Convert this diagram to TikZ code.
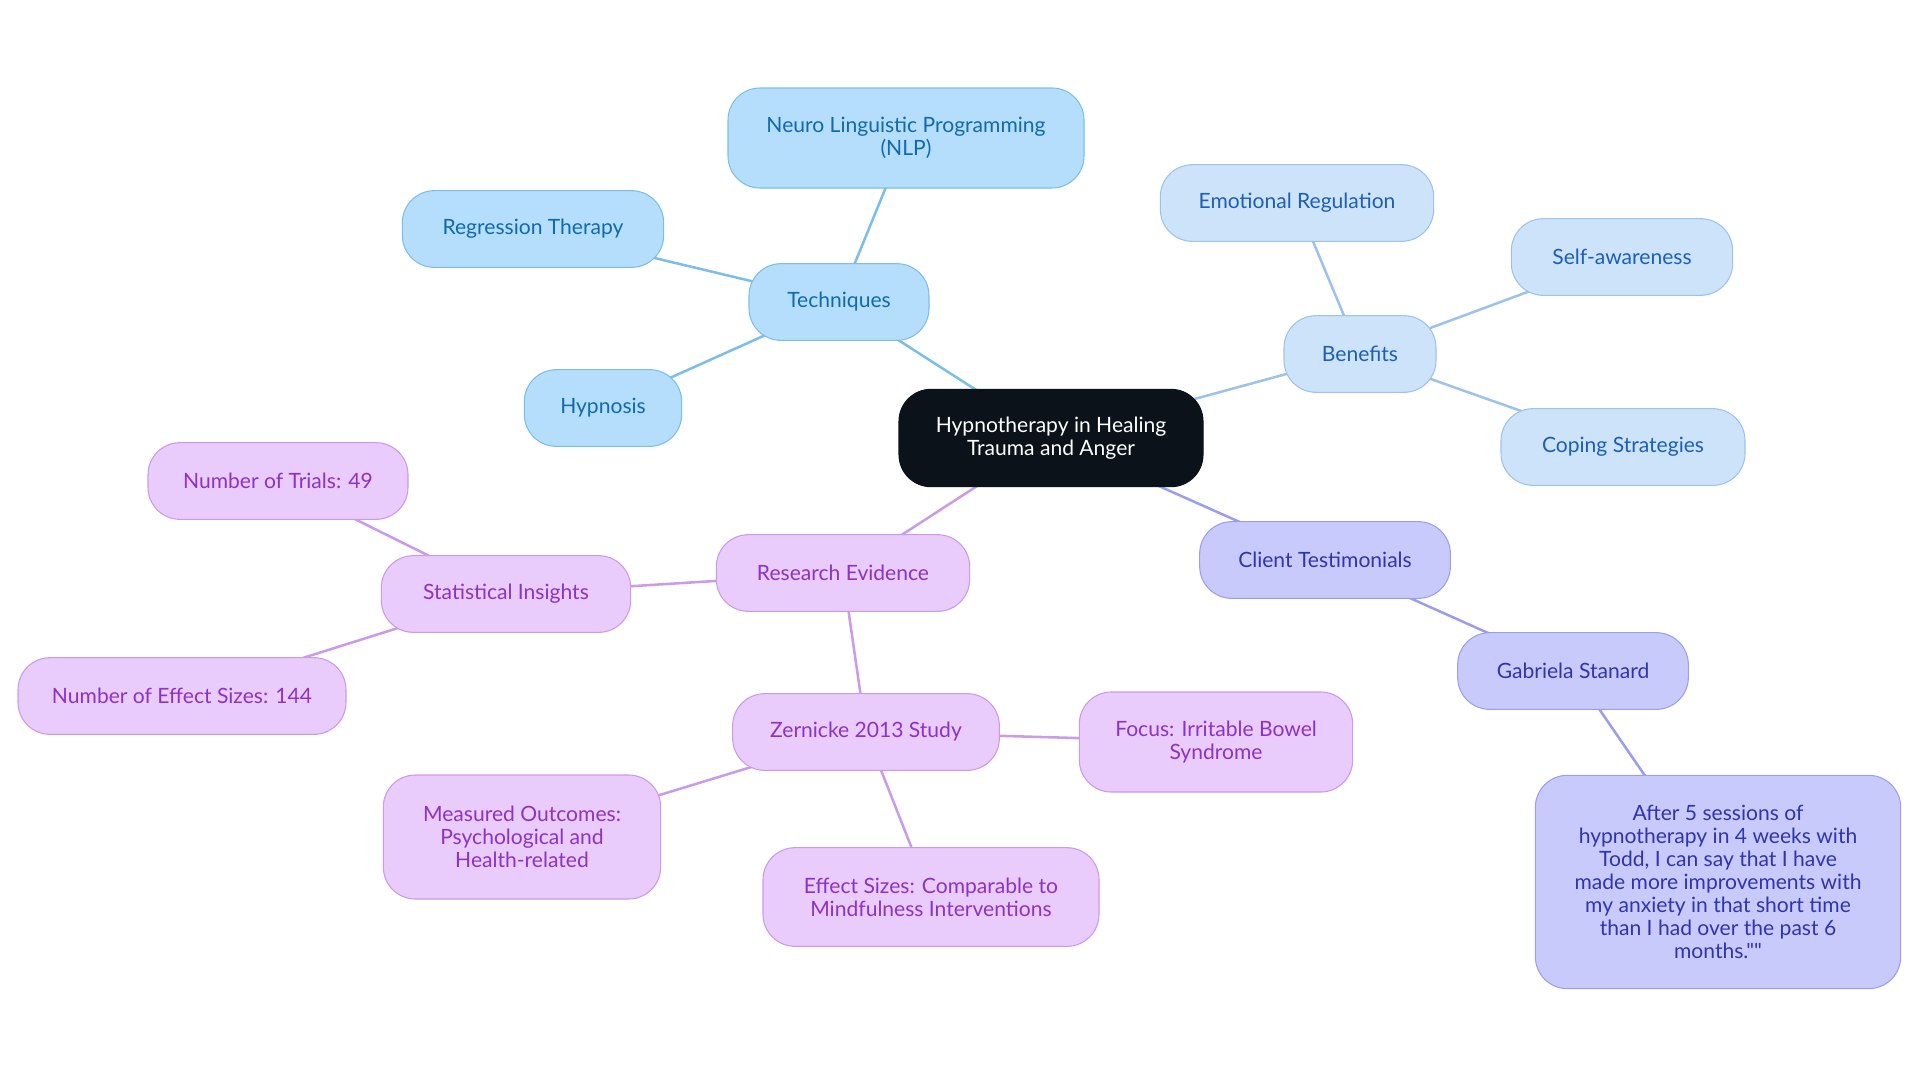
\documentclass[tikz,border=0pt]{standalone}
\usepackage{fontspec}
\setmainfont{Lato}[Ligatures=TeXOff]
\usepackage{tikz}
\usetikzlibrary{backgrounds}

\definecolor{rootfill}{HTML}{0B1219}
\definecolor{techfill}{HTML}{B5DEFC}
\definecolor{techline}{HTML}{7DBEE9}
\definecolor{techtext}{HTML}{106AAE}
\definecolor{benfill}{HTML}{CDE3FA}
\definecolor{benline}{HTML}{9DC3EC}
\definecolor{bentext}{HTML}{1D5EB8}
\definecolor{clifill}{HTML}{C9CAFC}
\definecolor{cliline}{HTML}{9C9EEC}
\definecolor{clitext}{HTML}{3034AE}
\definecolor{resfill}{HTML}{E9CBFC}
\definecolor{resline}{HTML}{C99BEA}
\definecolor{restext}{HTML}{8C33C6}

\begin{document}
\begin{tikzpicture}[x=0.75pt, y=-0.75pt,
    box/.style={rounded corners=24pt, line width=0.8pt, align=center,
      minimum height=57.5pt, inner sep=4pt,
      font=\fontsize{15.8}{17.3}\selectfont},
    rootbox/.style={box, fill=rootfill, draw=rootfill, text=white},
    techbox/.style={box, fill=techfill, draw=techline, text=techtext},
    benbox/.style={box, fill=benfill, draw=benline, text=bentext},
    clibox/.style={box, fill=clifill, draw=cliline, text=clitext},
    resbox/.style={box, fill=resfill, draw=resline, text=restext},
    techedge/.style={draw=techline, line width=1.9pt},
    benedge/.style={draw=benline, line width=1.9pt},
    cliedge/.style={draw=cliline, line width=1.9pt},
    resedge/.style={draw=resline, line width=1.9pt}]
  \useasboundingbox (0,0) rectangle (1920,1083);

  \node[rootbox, minimum width=228pt, minimum height=73pt] (root) at (1051,438)
    {Hypnotherapy in Healing\\Trauma and Anger};

  % techniques
  \node[techbox, minimum width=135pt] (tech) at (839,302) {Techniques};
  \node[techbox, minimum width=267pt, minimum height=75pt] (nlp) at (906,138)
    {Neuro Linguistic Programming\\(NLP)};
  \node[techbox, minimum width=196pt] (regr) at (533,229) {Regression Therapy};
  \node[techbox, minimum width=118pt] (hypn) at (603,408) {Hypnosis};

  % benefits
  \node[benbox, minimum width=114pt] (ben) at (1360,354) {Benefits};
  \node[benbox, minimum width=205pt] (emo) at (1297,203) {Emotional Regulation};
  \node[benbox, minimum width=166pt] (self) at (1622,257) {Self-awareness};
  \node[benbox, minimum width=183pt] (cope) at (1623,447) {Coping Strategies};

  % testimonials
  \node[clibox, minimum width=274pt, minimum height=160pt] (quote) at (1718,882)
    {After 5 sessions of\\hypnotherapy in 4 weeks with\\Todd, I can say that I have\\made more improvements with\\my anxiety in that short time\\than I had over the past 6\\months.""};
  \node[clibox, minimum width=188pt] (cli) at (1325,560) {Client Testimonials};
  \node[clibox, minimum width=173pt] (gab) at (1573,671) {Gabriela Stanard};

  % research
  \node[resbox, minimum width=190pt] (res) at (843,573) {Research Evidence};
  \node[resbox, minimum width=187pt] (stat) at (506,594) {Statistical Insights};
  \node[resbox, minimum width=195pt] (trials) at (278,481) {Number of Trials: 49};
  \node[resbox, minimum width=246pt] (effn) at (182,696) {Number of Effect Sizes: 144};
  \node[resbox, minimum width=200pt] (zern) at (866,732) {Zernicke 2013 Study};
  \node[resbox, minimum width=205pt, minimum height=75pt] (focus) at (1216,742)
    {Focus: Irritable Bowel\\Syndrome};
  \node[resbox, minimum width=208pt, minimum height=93pt] (meas) at (522,837)
    {Measured Outcomes:\\Psychological and\\Health-related};
  \node[resbox, minimum width=252pt, minimum height=74pt] (effc) at (931,897)
    {Effect Sizes: Comparable to\\Mindfulness Interventions};

  \begin{pgfonlayer}{background}
  \draw[techedge] (root.center) -- (tech.center);
  \draw[techedge] (tech.center) -- (nlp.center);
  \draw[techedge] (tech.center) -- (regr.center);
  \draw[techedge] (tech.center) -- (hypn.center);
  \draw[benedge] (root.center) -- (ben.center);
  \draw[benedge] (ben.center) -- (emo.center);
  \draw[benedge] (ben.center) -- (self.center);
  \draw[benedge] (ben.center) -- (cope.center);
  \draw[cliedge] (root.center) -- (cli.center);
  \draw[cliedge] (cli.center) -- (gab.center);
  \draw[cliedge] (gab.center) -- (quote.center);
  \draw[resedge] (root.center) -- (res.center);
  \draw[resedge] (res.center) -- (stat.center);
  \draw[resedge] (stat.center) -- (trials.center);
  \draw[resedge] (stat.center) -- (effn.center);
  \draw[resedge] (res.center) -- (zern.center);
  \draw[resedge] (zern.center) -- (focus.center);
  \draw[resedge] (zern.center) -- (meas.center);
  \draw[resedge] (zern.center) -- (effc.center);
  \end{pgfonlayer}
\end{tikzpicture}
\end{document}
